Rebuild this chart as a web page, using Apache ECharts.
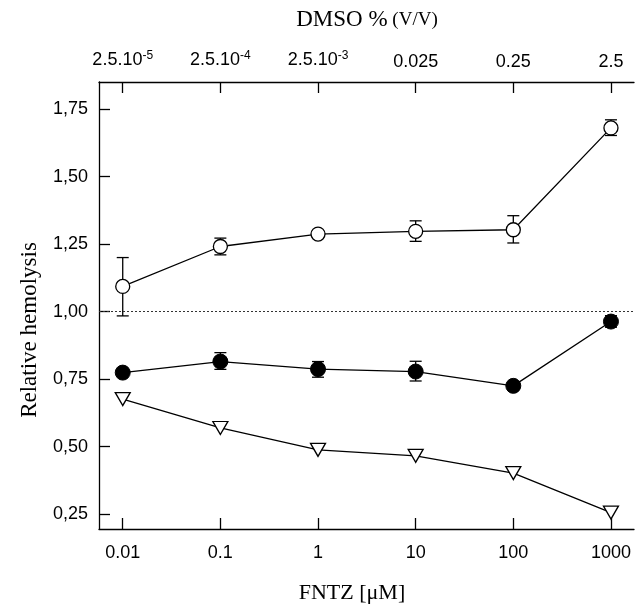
<!DOCTYPE html>
<html><head><meta charset="utf-8">
<script src="https://cdn.jsdelivr.net/npm/echarts@6/dist/echarts.min.js"></script>
<style>html,body{margin:0;padding:0;background:#fff}#c{width:635px;height:605px}</style>
</head><body><div id="c"></div>
<script>
// ---- data ----
const concLabels = ['0.01', '0.1', '1', '10', '100', '1000'];
const concentrations = [0.01, 0.1, 1, 10, 100, 1000];          // FNTZ [µM]
const dmsoBase = ['2.5.10', '2.5.10', '2.5.10', '0.025', '0.25', '2.5'];
const dmsoExp  = ['-5', '-4', '-3', '', '', ''];
const yTicks = [0.25, 0.5, 0.75, 1.0, 1.25, 1.5, 1.75];

const openMean  = [1.093, 1.241, 1.287, 1.297, 1.303, 1.680];
const openLow   = [0.984, 1.210, 1.277, 1.260, 1.254, 1.652];
const openHigh  = [1.200, 1.272, 1.297, 1.336, 1.355, 1.710];
const filledMean = [0.774, 0.815, 0.787, 0.778, 0.725, 0.963];
const filledLow  = [0.766, 0.786, 0.757, 0.743, 0.717, 0.942];
const filledHigh = [0.782, 0.848, 0.815, 0.816, 0.733, 0.985];
const triMean = [0.676, 0.569, 0.488, 0.466, 0.402, 0.256];
const referenceLevel = 1.0;

// ---- build ----
const logX = concentrations.map(c => Math.log10(c));
const tickVals = logX.slice();
const pts = arr => arr.map((v, i) => [logX[i], v]);
const errs = (lo, hi) => lo.map((v, i) => [logX[i], v, hi[i]]);

const chart = echarts.init(document.getElementById('c'), null, {renderer: 'canvas'});
const LW = 1.3;
const SANS = 'Liberation Sans, Arial, sans-serif';
const SERIF = 'Liberation Serif, Times New Roman, serif';
const tickFont = {fontFamily: SANS, fontSize: 18, color: '#000'};

function errorSeries(lo, hi) {
  return {
    type: 'custom', z: 1, silent: true,
    data: errs(lo, hi),
    renderItem(params, api) {
      const x = api.value(0);
      const p1 = api.coord([x, api.value(1)]);
      const p2 = api.coord([x, api.value(2)]);
      const w = 6;
      const st = {stroke: '#000', lineWidth: LW};
      return {type: 'group', children: [
        {type: 'line', shape: {x1: p1[0], y1: p1[1], x2: p2[0], y2: p2[1]}, style: st},
        {type: 'line', shape: {x1: p1[0]-w, y1: p1[1], x2: p1[0]+w, y2: p1[1]}, style: st},
        {type: 'line', shape: {x1: p2[0]-w, y1: p2[1], x2: p2[0]+w, y2: p2[1]}, style: st}
      ]};
    }
  };
}

const xCommon = {
  type: 'value', min: -2.243, max: 3.236,
  axisLine: {show: true, onZero: false, lineStyle: {color: '#000', width: LW}},
  axisTick: {show: true, inside: true, length: 11, customValues: tickVals, lineStyle: {color: '#000', width: LW}},
  splitLine: {show: false}
};

chart.setOption({
  animation: false,
  backgroundColor: '#fff',
  grid: {left: 99, right: 1, top: 82, bottom: 76, containLabel: false, outerBoundsMode: 'none'},
  xAxis: [
    Object.assign({}, xCommon, {
      position: 'bottom',
      axisLabel: Object.assign({}, tickFont, {customValues: tickVals, margin: 15,
        formatter: v => concLabels[Math.round(v + 2)]})
    }),
    Object.assign({}, xCommon, {
      position: 'top',
      axisLabel: Object.assign({}, tickFont, {customValues: tickVals, margin: 11,
        formatter: v => { const i = Math.round(v + 2); return dmsoExp[i] ? dmsoBase[i] + '{sup|' + dmsoExp[i] + '}' : dmsoBase[i]; },
        rich: {sup: {fontFamily: SANS, fontSize: 12, color: '#000', verticalAlign: 'top', padding: [0, 0, 9, 0]}}
      })
    })
  ],
  yAxis: {
    type: 'value', min: 0.195, max: 1.85,
    axisLine: {show: true, onZero: false, lineStyle: {color: '#000', width: LW}},
    axisTick: {show: true, inside: true, length: 11, customValues: yTicks, lineStyle: {color: '#000', width: LW}},
    axisLabel: Object.assign({}, tickFont, {customValues: yTicks, margin: 11,
      formatter: v => v.toFixed(2).replace('.', ',')}),
    splitLine: {show: false}
  },
  graphic: [
    {type: 'text', x: 367, y: 20, style: {
      text: '{a|DMSO %}{b| (V/V)}', align: 'center', verticalAlign: 'middle',
      rich: {a: {fontFamily: SERIF, fontSize: 23, fill: '#000'},
             b: {fontFamily: SERIF, fontSize: 19, fill: '#000'}}}},
    {type: 'text', x: 352, y: 593, style: {text: 'FNTZ [\u03bcM]', align: 'center', verticalAlign: 'middle',
      fontFamily: SERIF, fontSize: 22, fill: '#000'}},
    {type: 'text', x: 30, y: 330, rotation: Math.PI / 2, style: {text: 'Relative hemolysis', align: 'center', verticalAlign: 'middle',
      fontFamily: SERIF, fontSize: 23, fill: '#000'}}
  ],
  series: [
    errorSeries(openLow, openHigh),
    errorSeries(filledLow, filledHigh),
    {
      type: 'line', z: 3, data: pts(openMean), symbol: 'circle', symbolSize: 14,
      lineStyle: {color: '#000', width: LW}, itemStyle: {color: '#fff', borderColor: '#000', borderWidth: LW},
      markLine: {silent: true, symbol: 'none', label: {show: false},
        lineStyle: {color: '#333', width: 1, type: [2, 2]}, data: [{yAxis: referenceLevel}]}
    },
    {
      type: 'line', z: 3, data: pts(filledMean), symbol: 'circle', symbolSize: 15,
      lineStyle: {color: '#000', width: LW}, itemStyle: {color: '#000', borderColor: '#000', borderWidth: 1}
    },
    {
      type: 'line', z: 3, data: pts(triMean), symbol: 'triangle', symbolRotate: 180, symbolSize: [15, 13],
      lineStyle: {color: '#000', width: LW}, itemStyle: {color: '#fff', borderColor: '#000', borderWidth: LW}
    }
  ]
});
</script></body></html>
